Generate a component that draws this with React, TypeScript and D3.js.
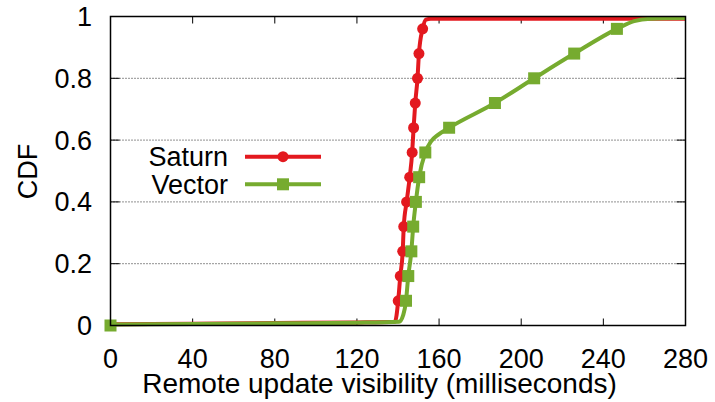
import React from "react";
import * as d3 from "d3";

// CDF of remote update visibility (ms) for the two systems
const saturnLine: [number, number][] = [
  [0, 0.004], [40, 0.006], [80, 0.008], [120, 0.01], [138.5, 0.012],
  [140.1, 0.08], [141.1, 0.16], [142.3, 0.24], [142.8, 0.32], [144.2, 0.4],
  [145.7, 0.48], [146.9, 0.56], [147.6, 0.64], [148.4, 0.72], [149.5, 0.8],
  [150.2, 0.88], [152.0, 0.96], [153.6, 0.99], [156, 0.993], [280, 0.993],
];
const saturnMarks: [number, number][] = [
  [0, 0], [140.1, 0.08], [141.1, 0.16], [142.3, 0.24], [142.8, 0.32], [144.2, 0.4],
  [145.7, 0.48], [146.9, 0.56], [147.6, 0.64], [148.4, 0.72], [149.5, 0.8],
  [150.2, 0.88], [152.0, 0.96],
];
const vectorLine: [number, number][] = [
  [0, 0.003], [40, 0.005], [80, 0.007], [120, 0.009], [140.5, 0.012],
  [142.6, 0.035], [143.9, 0.08], [145.0, 0.16], [146.5, 0.24], [147.4, 0.32],
  [148.7, 0.4], [150.3, 0.48], [153.3, 0.56], [156, 0.595], [159.5, 0.617],
  [164.9, 0.64], [187.2, 0.72], [206.3, 0.8], [225.8, 0.88], [246.6, 0.96],
  [255, 0.985], [263, 0.993], [280, 0.995],
];
const vectorMarks: [number, number][] = [
  [0, 0], [143.9, 0.08], [145.0, 0.16], [146.5, 0.24], [147.4, 0.32],
  [148.7, 0.4], [150.3, 0.48], [153.3, 0.56], [164.9, 0.64], [187.2, 0.72],
  [206.3, 0.8], [225.8, 0.88], [246.6, 0.96],
];
const xTicks = [0, 40, 80, 120, 160, 200, 240, 280];
const yTicks = [0, 0.2, 0.4, 0.6, 0.8, 1];
const gridY = [0.2, 0.4, 0.6, 0.8];
const seriesNames = ["Saturn", "Vector"];

const W = 715;
const H = 402;
const left = 110.5;
const right = 685.5;
const top = 16.5;
const bottom = 325.5;
const RED = "#e3191f";
const GREEN = "#76ab2f";
const FONT = "'Liberation Sans', Arial, Helvetica, sans-serif";
const FS = 27;

export default function App() {
  const x = d3.scaleLinear().domain([0, 280]).range([left, right]);
  const y = d3.scaleLinear().domain([0, 1]).range([bottom, top]);
  const line = d3
    .line<[number, number]>()
    .x((d) => x(d[0]))
    .y((d) => y(d[1]))
    .curve(d3.curveMonotoneX);
  const tick = 7;
  const sq = 12;

  return (
    <svg
      width={W}
      height={H}
      style={{ position: "absolute", left: 0, top: 0, background: "#fff" }}
      fontFamily={FONT}
    >
      {/* horizontal grid */}
      {gridY.map((v) => (
        <line
          key={"g" + v}
          x1={left}
          x2={right}
          y1={y(v)}
          y2={y(v)}
          stroke="#222"
          strokeWidth={1}
          strokeDasharray="1,2"
        />
      ))}
      {/* ticks on all four sides */}
      {xTicks.map((v) => (
        <g key={"xt" + v}>
          <line x1={x(v)} x2={x(v)} y1={bottom} y2={bottom - tick} stroke="#000" strokeWidth={1} />
          <line x1={x(v)} x2={x(v)} y1={top} y2={top + tick} stroke="#000" strokeWidth={1} />
          <text x={x(v)} y={367.5} textAnchor="middle" fontSize={FS} fill="#000">
            {v}
          </text>
        </g>
      ))}
      {yTicks.map((v) => (
        <g key={"yt" + v}>
          <line x1={left} x2={left + tick + 2} y1={y(v)} y2={y(v)} stroke="#000" strokeWidth={1} />
          <line x1={right} x2={right - tick - 2} y1={y(v)} y2={y(v)} stroke="#000" strokeWidth={1} />
          <text x={92} y={y(v) + 9.5} textAnchor="end" fontSize={FS} fill="#000">
            {String(v)}
          </text>
        </g>
      ))}
      <text x={379.5} y={392.5} textAnchor="middle" fontSize={28} fill="#000">
        Remote update visibility (milliseconds)
      </text>
      <text
        transform={`translate(36.5,${171.5}) rotate(-90)`}
        textAnchor="middle"
        fontSize={FS}
        fill="#000"
      >
        CDF
      </text>

      {/* series */}
      <path d={line(saturnLine) ?? ""} fill="none" stroke={RED} strokeWidth={4} strokeLinejoin="round" />
      {saturnMarks.map((d, i) => (
        <circle key={"sm" + i} cx={x(d[0])} cy={y(d[1])} r={5.5} fill={RED} />
      ))}
      <path d={line(vectorLine) ?? ""} fill="none" stroke={GREEN} strokeWidth={4} strokeLinejoin="round" />
      {vectorMarks.map((d, i) => (
        <rect key={"vm" + i} x={x(d[0]) - sq / 2} y={y(d[1]) - sq / 2} width={sq} height={sq} fill={GREEN} />
      ))}

      {/* legend */}
      {seriesNames.map((name, i) => {
        const ly = 156.7 + i * 27.6;
        const color = i === 0 ? RED : GREEN;
        return (
          <g key={name}>
            <text x={228} y={ly + 9.5} textAnchor="end" fontSize={FS} fill="#000">
              {name}
            </text>
            <line x1={245} x2={321} y1={ly} y2={ly} stroke={color} strokeWidth={4} />
            {i === 0 ? (
              <circle cx={283} cy={ly} r={5.5} fill={color} />
            ) : (
              <rect x={283 - sq / 2} y={ly - sq / 2} width={sq} height={sq} fill={color} />
            )}
          </g>
        );
      })}

      {/* frame */}
      <rect x={left} y={top} width={right - left} height={bottom - top} fill="none" stroke="#000" strokeWidth={1.5} />
    </svg>
  );
}
